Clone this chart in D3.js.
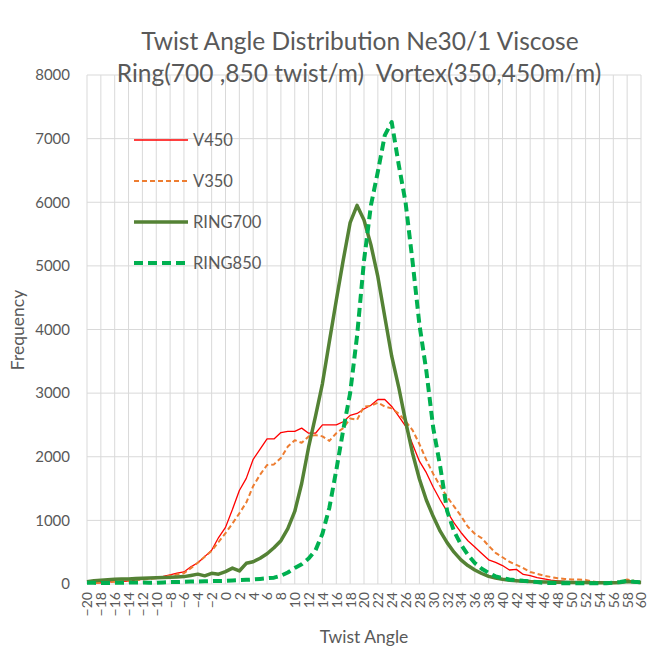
<!DOCTYPE html>
<html><head><meta charset="utf-8">
<script src="https://cdn.jsdelivr.net/npm/d3@7"></script>
<style>body{margin:0;background:#fff}svg{display:block}text{white-space:pre}</style>
</head><body>
<svg id="c" width="661" height="656"></svg>
<script>
const angles = d3.range(-20, 61, 1);
const xTicks = d3.range(-20, 61, 2);
const yTicks = [0,1000,2000,3000,4000,5000,6000,7000,8000];
const titleLines = ["Twist Angle Distribution Ne30/1 Viscose", "Ring(700 ,850 twist/m)  Vortex(350,450m/m)"];
const seriesNames = ["V450","V350","RING700","RING850"];
const V450 = [10,15,20,30,37,42,47,60,74,85,100,120,145,170,190,270,335,430,530,730,890,1170,1470,1660,1960,2120,2280,2280,2380,2400,2400,2450,2370,2370,2500,2500,2500,2550,2650,2680,2750,2810,2900,2900,2790,2640,2480,2200,1930,1750,1520,1320,1140,960,810,680,580,480,380,340,290,220,230,150,130,100,80,60,50,40,35,30,30,25,20,20,25,30,60,40,20];
const V350 = [15,20,25,30,35,45,50,60,70,80,90,105,130,150,170,250,335,430,520,660,800,950,1110,1280,1540,1720,1870,1880,1980,2160,2260,2220,2320,2340,2320,2250,2370,2450,2600,2580,2790,2800,2850,2790,2760,2680,2560,2420,2200,1950,1730,1540,1370,1220,1070,900,790,720,600,490,420,350,300,250,190,160,130,110,90,80,70,70,65,40,25,20,25,40,70,50,35];
const RING700 = [35,50,60,68,74,77,80,85,90,95,100,103,105,110,116,135,155,128,168,155,195,250,205,325,350,405,475,570,680,870,1140,1580,2150,2640,3150,3810,4460,5090,5680,5950,5720,5330,4830,4200,3580,3100,2560,2060,1650,1320,1060,830,650,500,380,290,220,165,120,95,75,60,52,45,38,35,32,30,28,27,25,25,22,20,20,20,20,25,40,30,25];
const RING850 = [20,18,15,15,18,20,22,22,22,20,20,25,30,32,35,38,40,42,45,48,50,55,60,65,72,80,90,100,130,180,250,310,400,530,790,1200,1790,2420,3000,3900,5080,5950,6480,7050,7260,6600,6000,5080,4080,3350,2450,1850,1150,830,620,460,330,240,175,120,90,70,60,50,43,30,18,15,15,12,12,12,12,10,10,12,20,30,50,35,25];

const styles = {
  V450:    {color:"#FF0000", width:1.3, dash:null},
  V350:    {color:"#ED7D31", width:2,   dash:"5,3"},
  RING700: {color:"#548235", width:3.5, dash:null},
  RING850: {color:"#00B050", width:4,   dash:"9,5"}
};
const dataMap = {V450, V350, RING700, RING850};

const svg = d3.select("#c");
const font = "Lato, 'Open Sans', sans-serif";
const textCol = "#595959";
const x = d3.scaleLinear().domain([-20,60]).range([87,641]);
const y = d3.scaleLinear().domain([0,8000]).range([584,75]);

// gridlines
svg.append("g").selectAll("line.v").data(xTicks).join("line")
  .attr("x1", d=>x(d)).attr("x2", d=>x(d)).attr("y1", y(0)).attr("y2", y(8000))
  .attr("stroke", "#D9D9D9").attr("stroke-width", 1);
svg.append("g").selectAll("line.h").data(yTicks).join("line")
  .attr("x1", x(-20)).attr("x2", x(60)).attr("y1", d=>y(d)).attr("y2", d=>y(d))
  .attr("stroke", "#D9D9D9").attr("stroke-width", 1);

// y axis labels
const yAxis = svg.append("g").attr("transform", "translate(" + x(-20) + ",0)")
  .call(d3.axisLeft(y).tickValues(yTicks).tickSize(0).tickPadding(17).tickFormat(d3.format("d")));
yAxis.select(".domain").remove();
yAxis.selectAll("text").attr("font-family", font).attr("font-size", 15).attr("fill", textCol);

// x axis labels
const xAxis = svg.append("g").attr("transform", "translate(0," + y(0) + ")")
  .call(d3.axisBottom(x).tickValues(xTicks).tickSize(0).tickFormat(d3.format("d")));
xAxis.select(".domain").remove();
xAxis.selectAll("text")
  .attr("font-family", font).attr("font-size", 14).attr("fill", textCol)
  .attr("transform", "rotate(-90)")
  .attr("text-anchor", "end").attr("x", -8).attr("y", 0).attr("dy", "0.35em");

// lines
const line = d3.line().x((d,i)=>x(angles[i])).y(d=>y(d));
seriesNames.forEach(name=>{
  const s = styles[name];
  svg.append("path").datum(dataMap[name])
    .attr("d", line).attr("fill","none")
    .attr("stroke", s.color).attr("stroke-width", s.width)
    .attr("stroke-dasharray", s.dash).attr("stroke-linejoin","round");
});

// legend
const legY = [140, 181, 222, 263];
seriesNames.forEach((name,i)=>{
  const s = styles[name];
  svg.append("line").attr("x1",134).attr("x2",188).attr("y1",legY[i]).attr("y2",legY[i])
    .attr("stroke", s.color).attr("stroke-width", s.width).attr("stroke-dasharray", s.dash);
  svg.append("text").attr("x",193).attr("y",legY[i]).attr("dy","0.35em")
    .attr("font-family", font).attr("font-size", 16.5).attr("fill", textCol).text(name);
});

// titles
svg.append("text").attr("x",360).attr("y",50).attr("text-anchor","middle")
  .attr("font-family", font).attr("font-size", 24.5).attr("fill", textCol).text(titleLines[0]);
svg.append("text").attr("x",359).attr("y",82).attr("text-anchor","middle")
  .attr("font-family", font).attr("font-size", 24.5).attr("fill", textCol).text(titleLines[1]);

svg.append("text").attr("x",364).attr("y",643).attr("text-anchor","middle")
  .attr("font-family", font).attr("font-size", 17.5).attr("fill", textCol).text("Twist Angle");
svg.append("text").attr("transform","translate(24,330) rotate(-90)").attr("text-anchor","middle")
  .attr("font-family", font).attr("font-size", 17.5).attr("fill", textCol).text("Frequency");
</script>
</body></html>
